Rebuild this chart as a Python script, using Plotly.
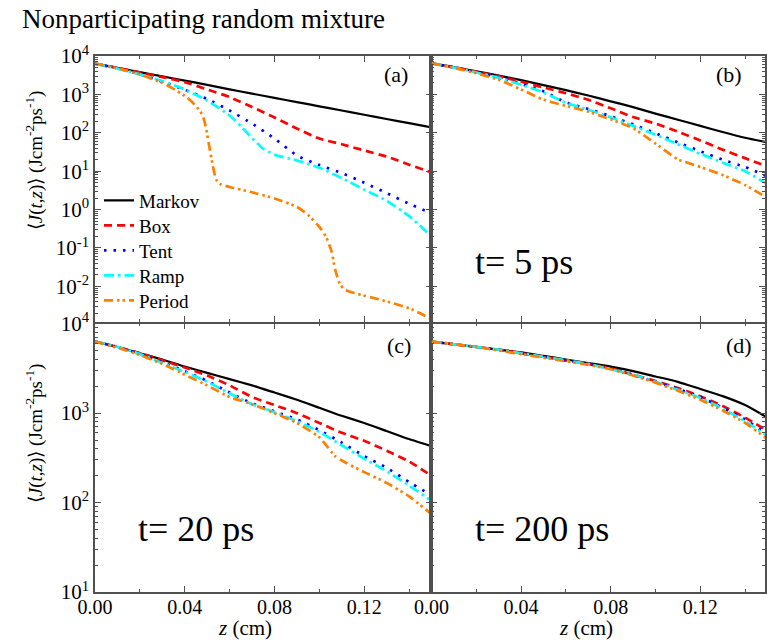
import plotly.graph_objects as go

title_text = "Nonparticipating random mixture"
series_names = ["Markov", "Box", "Tent", "Ramp", "Period"]
series_colors = ["#000000", "#FF0000", "#0000FF", "#00FFFF", "#FF8000"]
series_dash = ["solid", "8px,5px", "2.5px,7px", "10px,4px,2.5px,4px", "9px,4px,2.5px,3px,2.5px,4px"]
panel_labels = ["(a)", "(b)", "(c)", "(d)"]
time_labels = ["t= 5 ps", "t= 20 ps", "t= 200 ps"]
x_ticks = [0.00, 0.04, 0.08, 0.12]
y_exp_top = [-2, -1, 0, 1, 2, 3, 4]
y_exp_bot = [1, 2, 3, 4]

z_grid = [0.00, 0.01, 0.02, 0.03, 0.04, 0.05, 0.06, 0.07, 0.08, 0.09, 0.10, 0.11, 0.12, 0.13, 0.14, 0.15]

# values are log10 of <J(t,z)> in J cm^-2 ps^-1
markov_a = [3.80, 3.69, 3.58, 3.47, 3.36, 3.25, 3.13, 3.02, 2.91, 2.80, 2.69, 2.58, 2.47, 2.36, 2.25, 2.14]
box_a = [3.80, 3.69, 3.57, 3.45, 3.32, 3.13, 2.93, 2.67, 2.40, 2.11, 1.85, 1.70, 1.54, 1.38, 1.17, 0.97]
tent_a = [3.80, 3.68, 3.52, 3.33, 3.12, 2.88, 2.58, 2.24, 1.85, 1.41, 1.16, 0.95, 0.70, 0.43, 0.15, -0.10]
ramp_a_z = [0.00, 0.01, 0.02, 0.03, 0.04, 0.05, 0.06, 0.065, 0.07, 0.075, 0.08, 0.09, 0.10, 0.11, 0.12, 0.13, 0.14, 0.15]
ramp_a = [3.80, 3.67, 3.52, 3.35, 3.13, 2.84, 2.45, 2.17, 1.86, 1.58, 1.43, 1.28, 1.09, 0.82, 0.52, 0.23, -0.17, -0.70]
period_a_z = [0.00, 0.01, 0.02, 0.03, 0.036, 0.041, 0.045, 0.048, 0.0495, 0.051, 0.0525, 0.054, 0.056, 0.06,
              0.07, 0.08, 0.09, 0.095, 0.10, 0.103, 0.1055, 0.107, 0.109, 0.111, 0.116, 0.128, 0.14, 0.15]
period_a = [3.80, 3.68, 3.52, 3.30, 3.11, 2.92, 2.70, 2.45, 2.12, 1.62, 1.15, 0.78, 0.66, 0.59,
            0.45, 0.29, 0.07, -0.14, -0.45, -0.71, -1.10, -1.55, -1.92, -2.08, -2.18, -2.36, -2.57, -2.85]

markov_b = [3.81, 3.71, 3.60, 3.49, 3.37, 3.24, 3.11, 2.97, 2.82, 2.67, 2.50, 2.34, 2.18, 2.02, 1.87, 1.75]
box_b = [3.81, 3.71, 3.59, 3.47, 3.33, 3.18, 3.03, 2.86, 2.64, 2.41, 2.24, 2.03, 1.80, 1.56, 1.34, 1.12]
tent_b = [3.81, 3.70, 3.58, 3.44, 3.27, 3.08, 2.79, 2.62, 2.43, 2.22, 1.99, 1.75, 1.52, 1.30, 1.11, 0.86]
ramp_b = [3.81, 3.70, 3.57, 3.43, 3.25, 3.05, 2.78, 2.60, 2.40, 2.18, 1.95, 1.70, 1.45, 1.22, 1.00, 0.66]
period_b = [3.81, 3.69, 3.55, 3.38, 3.13, 2.86, 2.70, 2.55, 2.35, 2.12, 1.72, 1.31, 1.11, 0.90, 0.64, 0.30]

markov_c = [3.80, 3.74, 3.67, 3.60, 3.52, 3.45, 3.38, 3.31, 3.23, 3.15, 3.06, 2.97, 2.89, 2.80, 2.71, 2.63]
box_c = [3.80, 3.74, 3.67, 3.59, 3.51, 3.42, 3.31, 3.18, 3.09, 3.00, 2.89, 2.78, 2.69, 2.58, 2.46, 2.30]
tent_c = [3.80, 3.74, 3.66, 3.57, 3.47, 3.36, 3.23, 3.11, 3.02, 2.93, 2.81, 2.67, 2.52, 2.39, 2.23, 2.08]
ramp_c = [3.80, 3.74, 3.66, 3.56, 3.46, 3.35, 3.22, 3.10, 3.01, 2.91, 2.79, 2.64, 2.49, 2.35, 2.19, 2.02]
period_c_z = [0.00, 0.01, 0.02, 0.03, 0.04, 0.05, 0.06, 0.07, 0.08, 0.09, 0.10, 0.107, 0.11, 0.12, 0.13, 0.14, 0.15]
period_c = [3.80, 3.73, 3.65, 3.55, 3.43, 3.31, 3.18, 3.10, 3.00, 2.89, 2.73, 2.52, 2.47, 2.34, 2.22, 2.07, 1.87]

markov_d = [3.80, 3.77, 3.74, 3.71, 3.68, 3.64, 3.60, 3.56, 3.52, 3.47, 3.41, 3.35, 3.27, 3.19, 3.09, 2.95]
box_d = [3.80, 3.77, 3.74, 3.71, 3.67, 3.63, 3.59, 3.55, 3.50, 3.43, 3.36, 3.28, 3.19, 3.08, 2.95, 2.80]
tent_d = [3.80, 3.77, 3.74, 3.71, 3.67, 3.63, 3.59, 3.55, 3.50, 3.43, 3.35, 3.27, 3.18, 3.06, 2.93, 2.76]
ramp_d = [3.80, 3.77, 3.74, 3.71, 3.67, 3.63, 3.59, 3.55, 3.49, 3.43, 3.35, 3.26, 3.17, 3.05, 2.91, 2.74]
period_d = [3.80, 3.77, 3.74, 3.70, 3.66, 3.62, 3.58, 3.54, 3.49, 3.42, 3.34, 3.25, 3.15, 3.03, 2.89, 2.71]

panels = [
    ("x", "y", [(z_grid, markov_a), (z_grid, box_a), (z_grid, tent_a), (ramp_a_z, ramp_a), (period_a_z, period_a)]),
    ("x2", "y2", [(z_grid, markov_b), (z_grid, box_b), (z_grid, tent_b), (z_grid, ramp_b), (z_grid, period_b)]),
    ("x3", "y3", [(z_grid, markov_c), (z_grid, box_c), (z_grid, tent_c), (z_grid, ramp_c), (period_c_z, period_c)]),
    ("x4", "y4", [(z_grid, markov_d), (z_grid, box_d), (z_grid, tent_d), (z_grid, ramp_d), (z_grid, period_d)]),
]

FONT = "Liberation Serif"
W, H = 767, 641
ML, MR, MT, MB = 95, 0, 56, 49
PW, PH = W - ML - MR, H - MT - MB


def px_x(p):
    return (p - ML) / PW


def px_y(p):
    return (H - MB - p) / PH


legend_ids = ["legend", "legend2", "legend3", "legend4", "legend5"]

fig = go.Figure()
for pi, (xa, ya, series) in enumerate(panels):
    for si, (zz, vals) in enumerate(series):
        fig.add_trace(go.Scatter(
            x=zz, y=[10 ** v for v in vals], xaxis=xa, yaxis=ya, mode="lines",
            name=series_names[si], showlegend=(pi == 0), legend=legend_ids[si],
            line=dict(color=series_colors[si], dash=series_dash[si], width=2.7 if si else 2.2,
                      shape="spline", smoothing=0.5),
        ))

axis_line = "#505050"
left_dom = [0, px_x(432.5)]
right_dom = [px_x(432.5), 1]
top_dom = [px_y(321.7), 1]
bot_dom = [0, px_y(323.7)]


def minor_vals(exps):
    return [m * 10 ** e for e in range(min(exps) - 1, max(exps) + 1) for m in range(2, 10)]


def xax(dom, anchor, labels, rng):
    return dict(domain=dom, anchor=anchor, range=rng, showline=True, linecolor=axis_line, linewidth=1.5,
                mirror="ticks", ticks="inside", ticklen=6, tickcolor=axis_line,
                tickvals=x_ticks, tickformat=".2f", showticklabels=labels, showgrid=False, zeroline=False,
                ticklabelstandoff=-4,
                minor=dict(ticks="inside", ticklen=3, dtick=0.02, tick0=0, tickcolor=axis_line, showgrid=False),
                tickfont=dict(family=FONT, size=20, color="#000"))


def yax(dom, anchor, labels, rng, exps):
    return dict(domain=dom, anchor=anchor, type="log", range=rng, showline=True, linecolor=axis_line,
                linewidth=1.5, mirror="ticks", ticks="inside", ticklen=6, tickcolor=axis_line,
                tickmode="array", tickvals=[10 ** e for e in exps],
                ticktext=["10<sup>%d</sup>" % e for e in exps],
                showticklabels=labels, showgrid=False, zeroline=False,
                minor=dict(ticks="inside", ticklen=3, tickcolor=axis_line, showgrid=False,
                           tickmode="array", tickvals=minor_vals(exps)),
                tickfont=dict(family=FONT, size=21, color="#000"))


layout = dict(
    width=W, height=H, margin=dict(l=ML, r=MR, t=MT, b=MB),
    paper_bgcolor="white", plot_bgcolor="white",
    font=dict(family=FONT, color="#000"),
    xaxis=xax(left_dom, "y", False, [0, 0.15]),
    xaxis2=xax(right_dom, "y2", False, [0, 0.1489]),
    xaxis3=xax(left_dom, "y3", True, [0, 0.15]),
    xaxis4=xax(right_dom, "y4", True, [0, 0.1489]),
    yaxis=yax(top_dom, "x", True, [-2.92, 4], y_exp_top),
    yaxis2=yax(top_dom, "x2", False, [-2.92, 4], y_exp_top),
    yaxis3=yax(bot_dom, "x3", True, [1, 4], y_exp_bot),
    yaxis4=yax(bot_dom, "x4", False, [1, 4], y_exp_bot),
    showlegend=True,
)
for i, lid in enumerate(legend_ids):
    layout[lid] = dict(x=px_x(99), y=px_y(200.5 + 25 * i), xanchor="left", yanchor="middle",
                       bgcolor="rgba(0,0,0,0)", borderwidth=0,
                       font=dict(family=FONT, size=19, color="#000"))
fig.update_layout(**layout)

ann = []
ann.append(dict(text=title_text, x=px_x(20), y=px_y(2), xanchor="left", yanchor="top", font=dict(size=27)))
for lab, (px, py) in zip(panel_labels, [(397, 75), (731, 74), (400, 345), (741, 345)]):
    ann.append(dict(text=lab, x=px_x(px), y=px_y(py), xanchor="center", yanchor="middle", font=dict(size=22)))
for lab, (px, py) in zip(time_labels, [(525, 262), (196, 529), (543, 529)]):
    ann.append(dict(text=lab, x=px_x(px), y=px_y(py), xanchor="center", yanchor="middle", font=dict(size=36)))
ytitle = "\u27e8<i>J</i>(<i>t</i>,<i>z</i>)\u27e9 (Jcm<sup>-2</sup>ps<sup>-1</sup>)"
for py in [160, 433]:
    ann.append(dict(text=ytitle, x=px_x(34), y=px_y(py), xanchor="center", yanchor="middle", textangle=-90,
                    font=dict(size=19)))
for px in [245, 587]:
    ann.append(dict(text="<i>z</i> (cm)", x=px_x(px), y=px_y(641), xanchor="center", yanchor="bottom",
                    font=dict(size=21), borderpad=0))
for a in ann:
    a.update(xref="paper", yref="paper", showarrow=False)
    a["font"].update(family=FONT, color="#000")
fig.update_layout(annotations=ann)

fig.write_html("out.html")
